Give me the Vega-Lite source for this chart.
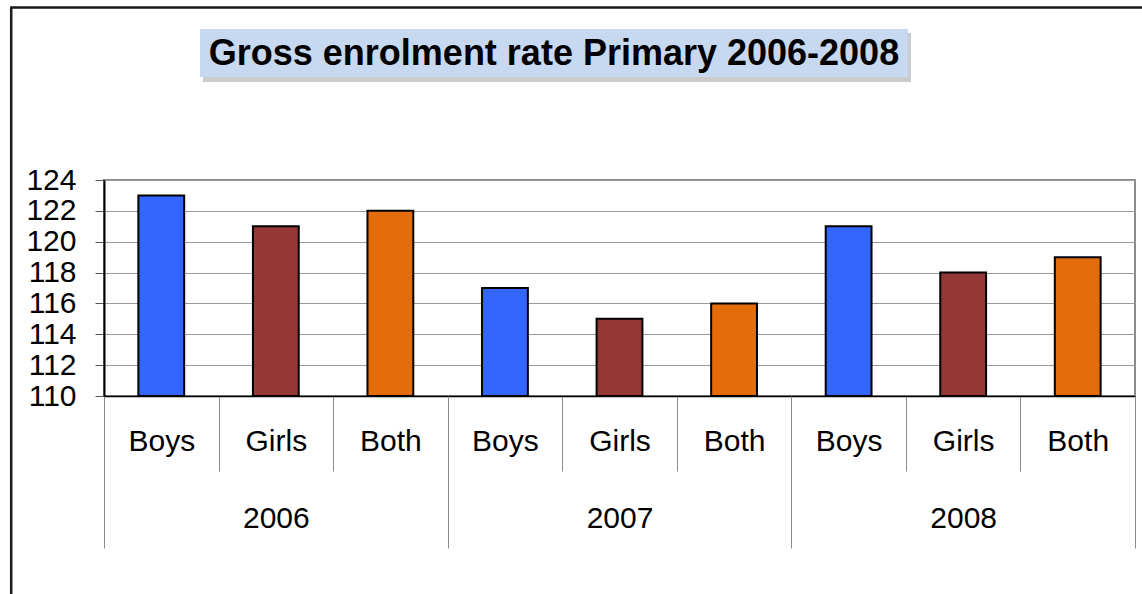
{
  "$schema": "https://vega.github.io/schema/vega-lite/v6.json",
  "width": 1031,
  "height": 216,
  "autosize": {"type": "none"},
  "padding": {"left": 104, "top": 180, "right": 7, "bottom": 198},
  "background": "white",
  "config": {
    "view": {"stroke": "#8c8c8c", "strokeWidth": 2},
    "font": "Liberation Sans"
  },
  "data": {
    "values": [
      {"key": "2006 Boys", "year": "2006", "gender": "Boys", "value": 123},
      {"key": "2006 Girls", "year": "2006", "gender": "Girls", "value": 121},
      {"key": "2006 Both", "year": "2006", "gender": "Both", "value": 122},
      {"key": "2007 Boys", "year": "2007", "gender": "Boys", "value": 117},
      {"key": "2007 Girls", "year": "2007", "gender": "Girls", "value": 115},
      {"key": "2007 Both", "year": "2007", "gender": "Both", "value": 116},
      {"key": "2008 Boys", "year": "2008", "gender": "Boys", "value": 121},
      {"key": "2008 Girls", "year": "2008", "gender": "Girls", "value": 118},
      {"key": "2008 Both", "year": "2008", "gender": "Both", "value": 119}
    ]
  },
  "resolve": {"scale": {"x": "independent"}, "axis": {"x": "independent"}},
  "layer": [
    {
      "layer": [
        {
          "mark": {"type": "bar", "width": {"band": 0.4}, "stroke": "black", "strokeWidth": 2},
          "encoding": {
            "x": {
              "field": "key",
              "type": "nominal",
              "scale": {
                "domain": ["2006 Boys", "2006 Girls", "2006 Both", "2007 Boys", "2007 Girls", "2007 Both", "2008 Boys", "2008 Girls", "2008 Both"],
                "paddingInner": 0,
                "paddingOuter": 0
              },
              "axis": {
                "title": null,
                "labelExpr": "split(datum.label, ' ')[1]",
                "tickBand": "extent",
                "tickSize": 75,
                "tickColor": "#8c8c8c",
                "tickWidth": 1,
                "labelPadding": -44.7,
                "labelFontSize": 30,
                "labelFont": "Liberation Sans",
                "labelColor": "black",
                "labelAngle": 0,
                "labelOverlap": false,
                "domainColor": "black",
                "domainWidth": 1.5,
                "grid": false
              }
            },
            "y": {
              "field": "value",
              "type": "quantitative",
              "scale": {"domain": [110, 124], "nice": false, "zero": false},
              "axis": {
                "title": null,
                "tickCount": 7,
                "tickMinStep": 2,
                "tickSize": 9,
                "tickColor": "#555555",
                "labelPadding": 19,
                "labelFontSize": 30,
                "labelFont": "Liberation Sans",
                "labelColor": "black",
                "labelOverlap": false,
                "labelFlush": false,
                "labelBound": false,
                "domainColor": "black",
                "domainWidth": 2,
                "gridColor": "#9a9a9a",
                "gridWidth": 1
              }
            },
            "y2": {"datum": 110},
            "color": {
              "field": "gender",
              "type": "nominal",
              "scale": {"domain": ["Boys", "Girls", "Both"], "range": ["#3366FF", "#953735", "#E46C0A"]},
              "legend": null
            }
          }
        },
        {
          "data": {"values": [{}]},
          "mark": {"type": "rect", "fill": "#a0a0a0", "opacity": 0.55},
          "encoding": {
            "x": {"datum": "2006 Boys", "type": "nominal", "bandPosition": 0.864},
            "x2": {"datum": "2008 Girls", "bandPosition": 0.0446},
            "y": {"datum": 133.53, "type": "quantitative"},
            "y2": {"datum": 130.35}
          }
        },
        {
          "data": {"values": [{}]},
          "mark": {"type": "rect", "fill": "#c6d9f1"},
          "encoding": {
            "x": {"datum": "2006 Boys", "type": "nominal", "bandPosition": 0.838},
            "x2": {"datum": "2008 Girls", "bandPosition": 0.0184},
            "y": {"datum": 133.79, "type": "quantitative"},
            "y2": {"datum": 130.676}
          }
        },
        {
          "data": {"values": [{}]},
          "mark": {"type": "text", "text": "Gross enrolment rate Primary 2006-2008", "font": "Liberation Sans", "fontWeight": "bold", "fontSize": 36, "align": "center", "baseline": "alphabetic", "color": "black"},
          "encoding": {
            "x": {"datum": "2007 Boys", "type": "nominal", "bandPosition": 0.928},
            "y": {"datum": 131.45, "type": "quantitative"}
          }
        },
        {
          "data": {"values": [{}]},
          "mark": {"type": "rule", "color": "#1a1a1a", "strokeWidth": 2.5},
          "encoding": {
            "x": {"datum": "2006 Boys", "type": "nominal", "bandPosition": -0.812},
            "x2": {"datum": "2008 Both", "bandPosition": 1.3},
            "y": {"datum": 135.18, "type": "quantitative"}
          }
        },
        {
          "data": {"values": [{}]},
          "mark": {"type": "rule", "color": "#1a1a1a", "strokeWidth": 2.5},
          "encoding": {
            "x": {"datum": "2006 Boys", "type": "nominal", "bandPosition": -0.81},
            "y": {"datum": 135.25, "type": "quantitative"},
            "y2": {"datum": 94}
          }
        }
      ]
    },
    {
      "mark": {"type": "point", "opacity": 0},
      "encoding": {
        "x": {
          "field": "year",
          "type": "nominal",
          "scale": {"paddingInner": 0, "paddingOuter": 0},
          "axis": {
            "orient": "bottom",
            "title": null,
            "tickBand": "extent",
            "tickSize": 152,
            "tickColor": "#8c8c8c",
            "tickWidth": 1,
            "labelPadding": -45,
            "labelFontSize": 30,
            "labelFont": "Liberation Sans",
            "labelColor": "black",
            "labelAngle": 0,
            "labelOverlap": false,
            "domain": false,
            "grid": false
          }
        }
      }
    }
  ]
}
